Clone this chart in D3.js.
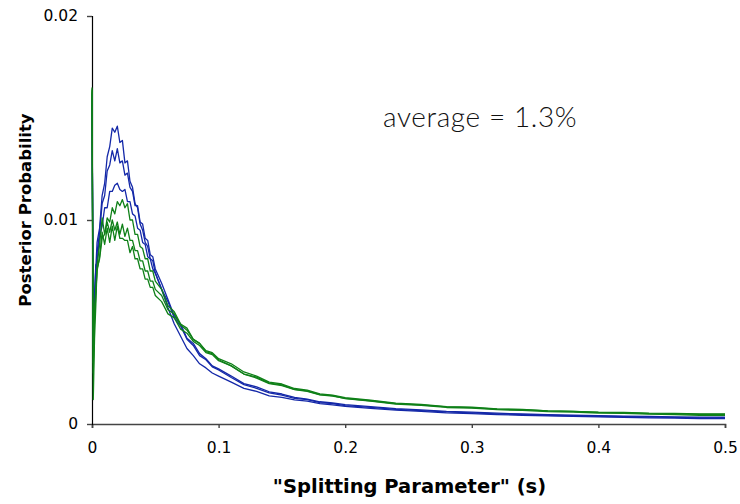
<!DOCTYPE html>
<html>
<head>
<meta charset="utf-8">
<script src="https://cdn.jsdelivr.net/npm/d3@7"></script>
<style>
  body { margin: 0; background: #fff; }
  svg { display: block; }
</style>
</head>
<body>
<svg id="chart"></svg>
<script>
// s values (x), shared by all runs
const sVals = [0, 0.001, 0.002, 0.003, 0.004, 0.006, 0.008, 0.010, 0.012, 0.014, 0.016, 0.018, 0.020, 0.022, 0.024, 0.026, 0.028, 0.030, 0.032, 0.034, 0.036, 0.038, 0.040, 0.042, 0.044, 0.046, 0.048, 0.050,
  0.055, 0.060, 0.065, 0.070, 0.075, 0.080, 0.085, 0.090, 0.095, 0.100,
  0.11, 0.12, 0.13, 0.14, 0.15, 0.16, 0.17, 0.18, 0.19, 0.20,
  0.22, 0.24, 0.26, 0.28, 0.30, 0.32, 0.34, 0.36, 0.38, 0.40, 0.42, 0.44, 0.46, 0.48, 0.50];

// posterior probability, in units of 0.001
const blue1 = [16.2, 4.2, 6.3, 7.6, 8.9, 9.6, 11.2, 11.8, 13.1, 13.6, 14.5, 14.3, 14.6, 13.8, 13.9, 12.8, 12.9, 11.9, 11.6, 10.8, 10.6, 9.8, 9.5, 8.9, 8.7, 8.1, 8.0, 7.4,
  6.6, 5.7, 4.9, 4.3, 3.7, 3.35, 2.95, 2.75, 2.5, 2.35,
  2.05, 1.75, 1.6, 1.38, 1.3, 1.18, 1.12, 1.0, 0.94, 0.86,
  0.77, 0.68, 0.62, 0.55, 0.51, 0.46, 0.43, 0.4, 0.37, 0.35, 0.33, 0.3, 0.29, 0.27, 0.26];
const blue2 = [16.0, 3.9, 5.4, 6.8, 8.4, 9.4, 10.8, 11.2, 12.4, 12.7, 13.4, 12.9, 13.5, 12.8, 12.9, 12.2, 12.3, 11.6, 11.4, 10.7, 10.7, 9.9, 9.8, 9.1, 9.0, 8.3, 8.2, 7.6,
  6.9, 6.1, 5.3, 4.9, 4.2, 3.95, 3.45, 3.2, 2.85, 2.7,
  2.35, 1.98, 1.82, 1.58, 1.47, 1.3, 1.22, 1.09, 1.03, 0.95,
  0.85, 0.75, 0.69, 0.62, 0.58, 0.53, 0.49, 0.46, 0.43, 0.41, 0.39, 0.37, 0.35, 0.34, 0.33];
const blue3 = [15.6, 4.5, 6.3, 7.8, 7.9, 9.2, 9.7, 10.6, 10.6, 11.4, 11.4, 11.7, 11.8, 11.5, 11.4, 11.5, 10.9, 10.9, 10.3, 10.2, 9.6, 9.5, 8.9, 8.8, 8.2, 8.1, 7.6, 7.4,
  6.6, 6.0, 5.2, 4.8, 4.15, 3.85, 3.35, 3.15, 2.8, 2.65,
  2.28, 1.93, 1.75, 1.53, 1.42, 1.26, 1.19, 1.05, 1.0, 0.9,
  0.81, 0.72, 0.66, 0.59, 0.55, 0.5, 0.46, 0.43, 0.4, 0.38, 0.36, 0.34, 0.32, 0.3, 0.29];
const green1 = [16.3, 2.5, 5.2, 6.3, 7.6, 8.1, 9.1, 9.3, 10.1, 9.9, 10.6, 10.3, 10.9, 10.7, 11.0, 10.6, 10.8, 10.0, 10.0, 9.3, 9.3, 8.7, 8.6, 8.1, 8.1, 7.5, 7.5, 7.0,
  6.6, 5.8, 5.5, 4.9, 4.7, 4.15, 3.95, 3.55, 3.45, 3.15,
  2.85, 2.45, 2.25, 1.98, 1.88, 1.68, 1.6, 1.43, 1.37, 1.26,
  1.14, 1.0, 0.94, 0.84, 0.8, 0.73, 0.7, 0.64, 0.62, 0.58, 0.57, 0.53, 0.52, 0.5, 0.49];
const green2 = [16.5, 1.2, 4.2, 5.8, 7.8, 8.8, 10.1, 9.3, 9.9, 9.4, 10.0, 9.5, 9.9, 9.3, 9.8, 9.2, 9.6, 9.0, 9.0, 8.5, 8.5, 8.0, 8.0, 7.5, 7.5, 7.0, 7.0, 6.6,
  6.3, 5.6, 5.4, 4.85, 4.6, 4.15, 3.95, 3.6, 3.5, 3.2,
  2.95, 2.55, 2.35, 2.05, 1.96, 1.74, 1.66, 1.48, 1.42, 1.29,
  1.17, 1.02, 0.96, 0.85, 0.82, 0.74, 0.71, 0.64, 0.62, 0.57, 0.56, 0.51, 0.5, 0.47, 0.47];
const green3 = [16.4, 3.0, 5.7, 6.6, 7.5, 8.2, 9.4, 8.8, 9.6, 8.9, 9.7, 9.0, 9.7, 9.1, 9.1, 9.0, 9.0, 8.4, 8.7, 8.1, 8.1, 7.6, 7.6, 7.1, 7.1, 6.7, 6.7, 6.3,
  6.0, 5.4, 5.2, 4.65, 4.45, 4.05, 3.85, 3.5, 3.4, 3.1,
  2.85, 2.45, 2.3, 2.0, 1.92, 1.7, 1.62, 1.44, 1.39, 1.25,
  1.12, 0.98, 0.92, 0.81, 0.78, 0.7, 0.67, 0.61, 0.58, 0.54, 0.52, 0.48, 0.46, 0.43, 0.42];

const xTicks = [0, 0.1, 0.2, 0.3, 0.4, 0.5];
const yTicks = [0, 0.01, 0.02];

const W = 740, H = 504;
const margin = { top: 16, right: 15, bottom: 80, left: 92 };
const width = W - margin.left - margin.right, height = H - margin.top - margin.bottom;
const font = "Verdana, 'DejaVu Sans', sans-serif";

const svg = d3.select("#chart").attr("width", W).attr("height", H);
const g = svg.append("g").attr("transform", `translate(${margin.left},${margin.top})`);

const x = d3.scaleLinear().domain([0, 0.5]).range([0, width]);
const y = d3.scaleLinear().domain([0, 0.02]).range([height, 0]);

// axes first, lines drawn on top of them
const xAxis = g.append("g").attr("transform", `translate(0,${height})`)
  .call(d3.axisBottom(x).tickValues(xTicks).tickFormat(d3.format("")).tickSize(4).tickPadding(14));
xAxis.select(".domain").attr("stroke", "#444").attr("stroke-width", 1.6);
xAxis.selectAll(".tick line").attr("stroke", "#444").attr("stroke-width", 1.4);
xAxis.selectAll("text").attr("font-family", font).attr("font-size", 15.5).attr("fill", "#000");

const yAxis = g.append("g")
  .call(d3.axisLeft(y).tickValues(yTicks).tickFormat(d3.format("")).tickSize(5).tickPadding(9));
yAxis.select(".domain").attr("stroke", "#000").attr("stroke-width", 1.2);
yAxis.selectAll(".tick line").attr("stroke", "#444").attr("stroke-width", 1.4);
yAxis.selectAll("text").attr("font-family", font).attr("font-size", 15.5).attr("fill", "#000");

const line = d3.line().x((d, i) => x(sVals[i])).y(d => y(d / 1000));

const runs = [
  { vals: blue1, color: "#1428a8" },
  { vals: blue2, color: "#1428a8" },
  { vals: blue3, color: "#1428a8" },
  { vals: green1, color: "#0f8018" },
  { vals: green2, color: "#0f8018" },
  { vals: green3, color: "#0f8018" }
];

runs.forEach(r => {
  g.append("path").datum(r.vals)
    .attr("fill", "none")
    .attr("stroke", r.color)
    .attr("stroke-width", 1.3)
    .attr("stroke-linejoin", "round")
    .attr("d", line);
});

// titles
svg.append("text")
  .attr("x", margin.left + width / 2 + 1).attr("y", 493)
  .attr("text-anchor", "middle")
  .attr("font-family", font)
  .attr("font-weight", "bold").attr("font-size", 19.5)
  .text('"Splitting Parameter" (s)');

svg.append("text")
  .attr("transform", `translate(31,210) rotate(-90)`)
  .attr("text-anchor", "middle")
  .attr("font-family", font)
  .attr("font-weight", "bold").attr("font-size", 16.5)
  .text("Posterior Probability");

svg.append("text")
  .attr("x", 383).attr("y", 127)
  .attr("font-family", "Lato, 'Noto Sans', sans-serif")
  .attr("font-weight", 300)
  .attr("font-size", 28).attr("letter-spacing", 0.6).attr("fill", "#111")
  .text("average = 1.3%");
</script>
</body>
</html>
